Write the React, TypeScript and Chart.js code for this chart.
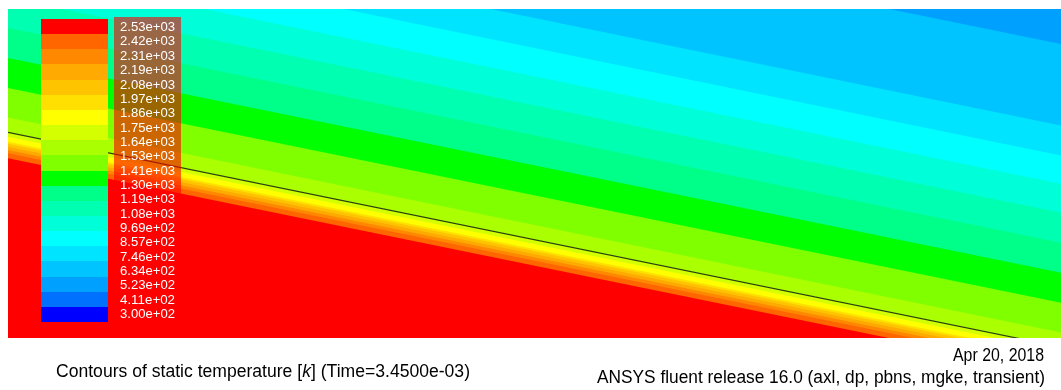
import React, { useEffect, useRef } from "react";
import { Chart, registerables } from "chart.js";

Chart.register(...registerables);

// ---- colour map (level 0 = 3.00e+02 ... level 19 = 2.53e+03) ----
const palette = [
  "#0000ff", "#0070ff", "#00a0ff", "#00c4ff", "#00e4ff",
  "#00ffff", "#00ffd8", "#00ffb0", "#00ff88", "#00ff00",
  "#80ff00", "#aaff00", "#d4ff00", "#ffff00", "#ffe000",
  "#ffc400", "#ffaa00", "#ff8800", "#ff6600", "#ff0000",
];

// colour-bar tick labels, top to bottom
const legendLabels = [
  "2.53e+03", "2.42e+03", "2.31e+03", "2.19e+03", "2.08e+03", "1.97e+03",
  "1.86e+03", "1.75e+03", "1.64e+03", "1.53e+03", "1.41e+03", "1.30e+03",
  "1.19e+03", "1.08e+03", "9.69e+02", "8.57e+02", "7.46e+02", "6.34e+02",
  "5.23e+02", "4.11e+02", "3.00e+02",
];

// domain extent (x along the wall, y depth from top)
const xEdges = [0, 1053];
const yRange = [0, 329];

// contour boundaries, top to bottom: depth at left edge / right edge
const boundaryAtLeft = [
  -300, -179.7, -98.4, -68.4, -40, -11, 19, 49, 79, 108.6,
  123.3, 127.7, 132.7, 134.8, 137.7, 141, 144.3, 149.3,
];
const boundaryAtRight = [
  -300, 35.1, 116.4, 146.4, 174.8, 203.8, 233.8, 263.8, 293.8, 323.4,
  338.1, 342.5, 347.5, 349.6, 352.5, 355.8, 359.1, 364.1,
];
// level of the band lying below each boundary
const bandLevel = [2, 3, 4, 5, 6, 7, 8, 9, 10, 11, 12, 13, 14, 15, 16, 17, 18, 19];

// material interface line (depth at left / right edge)
const interfaceLine = [123.3, 338.1];

const captionLeft = ["Contours of static temperature [", "k", "] (Time=3.4500e-03)"];
const captionDate = "Apr 20, 2018";
const captionRelease = "ANSYS fluent release 16.0 (axl, dp, pbns, mgke, transient)";

const FONT = '"Liberation Sans", Arial, sans-serif';

function fitDraw(
  ctx: CanvasRenderingContext2D,
  parts: { t: string; italic?: boolean }[],
  x: number,
  y: number,
  width: number,
  align: "left" | "right",
  size: number
) {
  const fonts = parts.map((p) => `${p.italic ? "italic " : ""}${size}px ${FONT}`);
  let total = 0;
  const ws = parts.map((p, i) => {
    ctx.font = fonts[i];
    const w = ctx.measureText(p.t).width;
    total += w;
    return w;
  });
  const sx = width / total;
  const x0 = align === "right" ? x - width : x;
  ctx.save();
  ctx.translate(x0, y);
  ctx.scale(sx, 1);
  ctx.fillStyle = "#000";
  ctx.textAlign = "left";
  ctx.textBaseline = "alphabetic";
  let cx = 0;
  parts.forEach((p, i) => {
    ctx.font = fonts[i];
    ctx.fillText(p.t, cx, 0);
    cx += ws[i];
  });
  ctx.restore();
}

const overlayPlugin = {
  id: "fluentOverlay",
  afterDraw(chart: any) {
    const ctx: CanvasRenderingContext2D = chart.ctx;
    const a = chart.chartArea;
    ctx.save();
    // colour bar
    const barL = a.left + 33;
    const barW = 67;
    const barT = a.top + 10;
    const barH = 303;
    const n = palette.length;
    const bh = barH / n;
    for (let i = 0; i < n; i++) {
      ctx.fillStyle = palette[n - 1 - i];
      const y0 = Math.round(barT + i * bh);
      const y1 = Math.round(barT + (i + 1) * bh);
      ctx.fillRect(barL, y0, barW, y1 - y0);
    }
    // label backdrop
    ctx.fillStyle = "rgba(255,0,0,0.6)";
    ctx.fillRect(a.left + 106, a.top + 8, 67, 310);
    // labels
    ctx.fillStyle = "#ffffff";
    ctx.textAlign = "left";
    ctx.textBaseline = "middle";
    const first = barT + bh / 2 + 1;
    const last = barT + barH - bh / 2;
    const step = (last - first) / (legendLabels.length - 1);
    legendLabels.forEach((l, i) => {
      ctx.save();
      ctx.font = `13px ${FONT}`;
      const w = ctx.measureText(l).width;
      ctx.translate(a.left + 112, first + i * step);
      ctx.scale(55 / w, 1);
      ctx.fillText(l, 0, 0);
      ctx.restore();
    });
    ctx.restore();

    // captions
    fitDraw(
      ctx,
      [{ t: captionLeft[0] }, { t: captionLeft[1], italic: true }, { t: captionLeft[2] }],
      56, 377, 414, "left", 17.5
    );
    fitDraw(ctx, [{ t: captionDate }], 1044, 361, 91, "right", 17.5);
    fitDraw(ctx, [{ t: captionRelease }], 1045, 383, 448, "right", 17.5);
  },
};

export default function App() {
  const ref = useRef<HTMLCanvasElement | null>(null);

  useEffect(() => {
    if (!ref.current) return;
    const nB = boundaryAtLeft.length;
    const datasets: any[] = boundaryAtLeft.map((yl, k) => ({
      type: "line",
      label: `boundary ${k}`,
      data: [
        { x: xEdges[0], y: yl },
        { x: xEdges[1], y: boundaryAtRight[k] },
      ],
      borderWidth: 0,
      borderColor: "rgba(0,0,0,0)",
      backgroundColor: palette[bandLevel[k]],
      pointRadius: 0,
      tension: 0,
      fill: "start",
      order: nB - k + 1,
    }));
    datasets.push({
      type: "line",
      label: "interface",
      data: [
        { x: xEdges[0], y: interfaceLine[0] },
        { x: xEdges[1], y: interfaceLine[1] },
      ],
      borderWidth: 1.2,
      borderColor: "rgba(25,45,15,0.9)",
      pointRadius: 0,
      tension: 0,
      fill: false,
      order: 0,
    });

    const chart = new Chart(ref.current, {
      type: "line",
      data: { datasets },
      options: {
        animation: false,
        responsive: false,
        maintainAspectRatio: false,
        layout: { padding: { left: 8, top: 9, right: 0, bottom: 52 } },
        scales: {
          x: { type: "linear", min: xEdges[0], max: xEdges[1], display: false },
          y: { type: "linear", min: yRange[0], max: yRange[1], reverse: true, display: false },
        },
        plugins: {
          legend: { display: false },
          tooltip: { enabled: false },
          title: { display: false },
        },
      },
      plugins: [overlayPlugin],
    } as any);
    return () => chart.destroy();
  }, []);

  return (
    <div style={{ position: "fixed", left: 0, top: 0, width: 1061, height: 390, background: "#fff" }}>
      <canvas ref={ref} width={1061} height={390} style={{ display: "block", width: 1061, height: 390 }} />
    </div>
  );
}
